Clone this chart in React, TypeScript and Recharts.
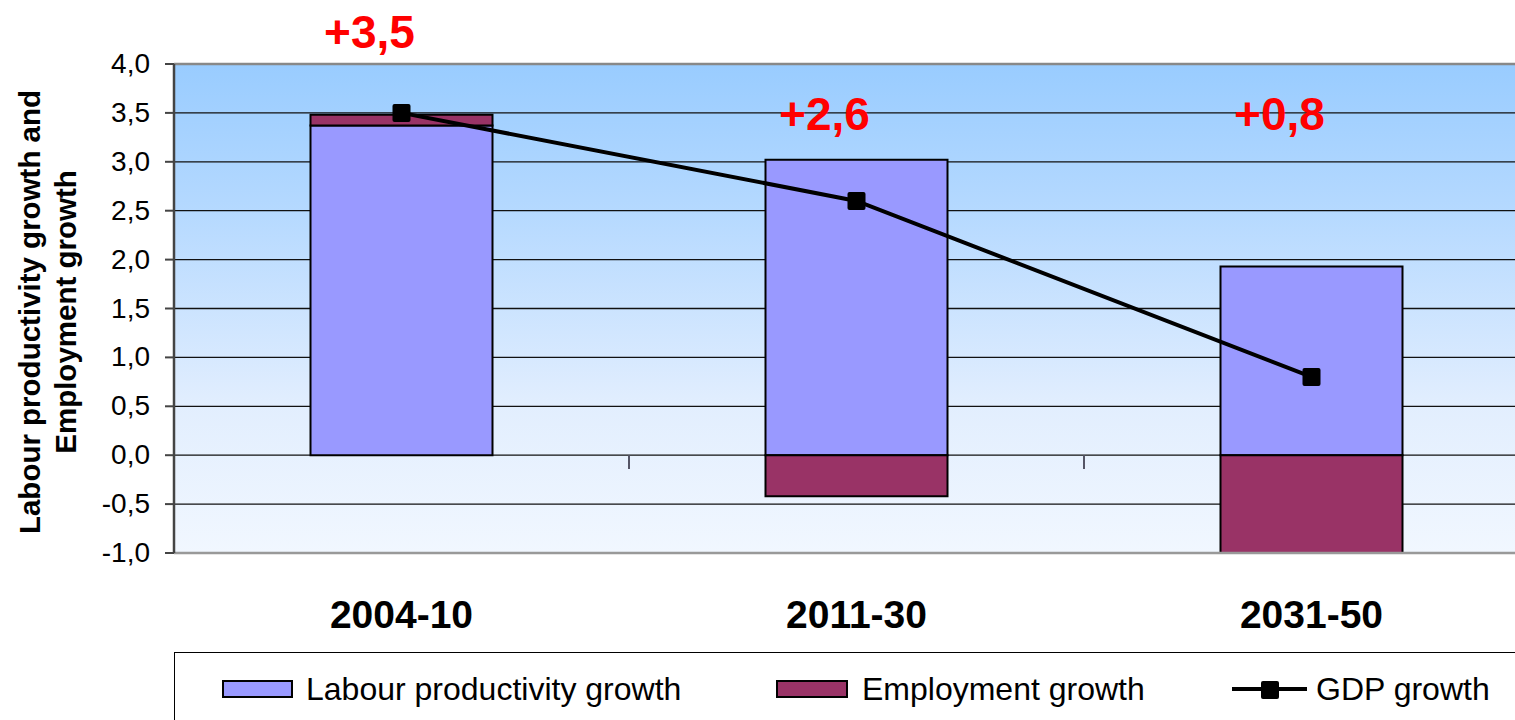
import React from "react";
import {
  ComposedChart,
  Bar,
  Line,
  XAxis,
  YAxis,
  CartesianGrid,
  ReferenceLine,
  ReferenceDot,
} from "recharts";

const periods = ["2004-10", "2011-30", "2031-50"];
const productivity = [3.37, 3.02, 1.93];
const employment = [0.11, -0.42, -1.13];
const gdp = [3.5, 2.6, 0.8];
// level (in axis units) where the red GDP annotations sit
const gdpLabelLevel = [4.16, 3.33, 3.33];
const yTicks = [-1, -0.5, 0, 0.5, 1, 1.5, 2, 2.5, 3, 3.5, 4];

const data = periods.map((p, i) => ({
  period: p,
  productivity: productivity[i],
  employment: employment[i],
  gdp: gdp[i],
}));

const FONT = "'Liberation Sans', Arial, sans-serif";
const comma = (v: number) => v.toFixed(1).replace(".", ",");

const SquareDot = (props: any) => {
  const { cx, cy, index } = props;
  if (cx == null || cy == null) return null;
  return <rect key={`sq-${index}`} x={cx - 9} y={cy - 9} width={18} height={18} rx={2} fill="#000" />;
};

const PeriodTick = (props: any) => {
  const { x, y, payload } = props;
  return (
    <text x={x} y={y + 75} textAnchor="middle" fontSize={39} fontWeight="bold" fill="#000" fontFamily={FONT}>
      {payload.value}
    </text>
  );
};

const ValueTick = (props: any) => {
  const { x, y, payload } = props;
  return (
    <text x={x} y={y} dy={9} textAnchor="end" fontSize={28} fill="#000" fontFamily={FONT}>
      {comma(payload.value)}
    </text>
  );
};

export default function App() {
  return (
    <div
      style={{
        position: "fixed",
        left: 0,
        top: 0,
        width: 1515,
        height: 720,
        overflow: "hidden",
        background: "#fff",
        fontFamily: FONT,
      }}
    >
      <ComposedChart
        width={1560}
        height={720}
        data={data}
        stackOffset="sign"
        barCategoryGap="30%"
        margin={{ top: 64, right: 21, left: 0, bottom: 67 }}
      >
        <defs>
          <linearGradient id="plotBg" x1="0" y1="0" x2="0" y2="1">
            <stop offset="0%" stopColor="#99CCFF" />
            <stop offset="30%" stopColor="#B5D9FF" />
            <stop offset="70%" stopColor="#E2EEFE" />
            <stop offset="100%" stopColor="#F1F7FF" />
          </linearGradient>
        </defs>
        <CartesianGrid vertical={false} stroke="#111" strokeWidth={1.3} fill="url(#plotBg)" />
        <XAxis
          dataKey="period"
          axisLine={false}
          tickLine={false}
          tickSize={0}
          tickMargin={0}
          height={100}
          tick={<PeriodTick />}
        />
        <YAxis
          width={174}
          domain={[-1, 4]}
          ticks={yTicks}
          allowDataOverflow
          interval={0}
          axisLine={{ stroke: "#444", strokeWidth: 2.5 }}
          tickLine={{ stroke: "#444", strokeWidth: 2 }}
          tickSize={9}
          tickMargin={15}
          tick={<ValueTick />}
        />
        <ReferenceLine y={4} stroke="#888" strokeWidth={2.5} />
        <ReferenceLine y={-1} stroke="#999" strokeWidth={2.5} />
        <ReferenceLine
          segment={[{ x: "2011-30", y: 0 }, { x: "2011-30", y: -0.14 }]}
          position="start"
          stroke="#556"
          strokeWidth={2}
        />
        <ReferenceLine
          segment={[{ x: "2031-50", y: 0 }, { x: "2031-50", y: -0.14 }]}
          position="start"
          stroke="#556"
          strokeWidth={2}
        />
        <Bar dataKey="productivity" stackId="a" fill="#9999FF" stroke="#000" strokeWidth={2} isAnimationActive={false} />
        <Bar dataKey="employment" stackId="a" fill="#993366" stroke="#000" strokeWidth={2} isAnimationActive={false} />
        <Line
          dataKey="gdp"
          type="linear"
          stroke="#000"
          strokeWidth={4}
          dot={<SquareDot />}
          activeDot={false}
          isAnimationActive={false}
        />
        {periods.map((p, i) => (
          <ReferenceDot
            key={p}
            x={p}
            y={gdpLabelLevel[i]}
            r={0}
            ifOverflow="visible"
            shape={(s: any) => (
              <text
                x={s.cx - 32}
                y={s.cy}
                textAnchor="middle"
                fontSize={46}
                fontWeight="bold"
                fill="#FF0000"
                fontFamily={FONT}
              >
                {"+" + comma(gdp[i])}
              </text>
            )}
          />
        ))}
      </ComposedChart>

      <svg style={{ position: "absolute", left: 0, top: 0 }} width={110} height={640}>
        <text
          x={40}
          y={312}
          transform="rotate(-90, 40, 312)"
          textAnchor="middle"
          fontSize={29.5}
          fontWeight="bold"
          fontFamily={FONT}
          fill="#000"
        >
          Labour productivity growth and
        </text>
        <text
          x={76}
          y={312}
          transform="rotate(-90, 76, 312)"
          textAnchor="middle"
          fontSize={29.5}
          fontWeight="bold"
          fontFamily={FONT}
          fill="#000"
        >
          Employment growth
        </text>
      </svg>

      {/* legend box */}
      <div
        style={{
          position: "absolute",
          left: 174,
          top: 652,
          width: 1400,
          height: 100,
          border: "1.5px solid #000",
          boxSizing: "border-box",
        }}
      />
      <div style={{ position: "absolute", left: 222, top: 680, width: 71, height: 18, boxSizing: "border-box", border: "2px solid #000", background: "#9999FF" }} />
      <div style={{ position: "absolute", left: 306, top: 669, height: 40, lineHeight: "40px", fontSize: 32, whiteSpace: "nowrap" }}>
        Labour productivity growth
      </div>
      <div style={{ position: "absolute", left: 776, top: 680, width: 72, height: 18, boxSizing: "border-box", border: "2px solid #000", background: "#993366" }} />
      <div style={{ position: "absolute", left: 862, top: 669, height: 40, lineHeight: "40px", fontSize: 32, whiteSpace: "nowrap" }}>
        Employment growth
      </div>
      <div style={{ position: "absolute", left: 1232, top: 687, width: 75, height: 4, background: "#000" }} />
      <div style={{ position: "absolute", left: 1261, top: 681, width: 18, height: 18, borderRadius: 2, background: "#000" }} />
      <div style={{ position: "absolute", left: 1316, top: 669, height: 40, lineHeight: "40px", fontSize: 32, whiteSpace: "nowrap" }}>
        GDP growth
      </div>
    </div>
  );
}
